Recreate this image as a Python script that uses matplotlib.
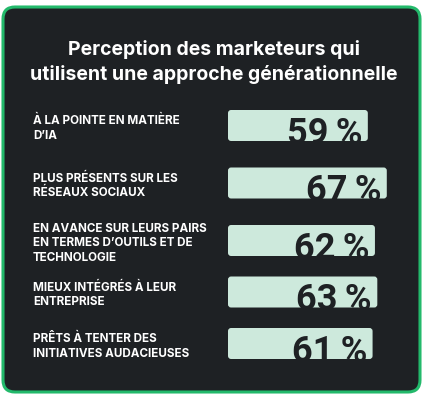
import matplotlib.pyplot as plt
from matplotlib.patches import FancyBboxPatch

# chart content
title_lines = ["Perception des marketeurs qui",
               "utilisent une approche générationnelle"]
labels = [
    "À LA POINTE EN MATIÈRE\nD’IA",
    "PLUS PRÉSENTS SUR LES\nRÉSEAUX SOCIAUX",
    "EN AVANCE SUR LEURS PAIRS\nEN TERMES D’OUTILS ET DE\nTECHNOLOGIE",
    "MIEUX INTÉGRÉS À LEUR\nENTREPRISE",
    "PRÊTS À TENTER DES\nINITIATIVES AUDACIEUSES",
]
values = [59, 67, 62, 63, 61]

# layout (pixels, y going down)
row_y = [125.5, 183, 240.5, 292, 343.5]
bar_h = 31
bar_left_px = 228
px_per_pct = 2.37

card_bg = '#1e2124'
card_edge = '#23b96b'
bar_color = '#cde9dc'

plt.rcParams['font.family'] = ['Inter', 'DejaVu Sans']

W, H = 424, 400
fig = plt.figure(figsize=(W / 100, H / 100), dpi=100)
fig.patch.set_facecolor('white')

bg = fig.add_axes([0, 0, 1, 1])
bg.set_xlim(0, W)
bg.set_ylim(H, 0)
bg.axis('off')

card = FancyBboxPatch((3, 7), 417, 385,
                      boxstyle='round,pad=0,rounding_size=12',
                      facecolor=card_bg, edgecolor=card_edge, linewidth=2.2)
bg.add_patch(card)

# title
for i, line in enumerate(title_lines):
    bg.text(214, 55 + i * 24.5, line, color='white', fontsize=14,
            fontweight='bold', ha='center', va='baseline')

# row labels
for lab, yc in zip(labels, row_y):
    lines = lab.split('\n')
    first = yc - (len(lines) - 1) * 7.25 + 6
    for j, line in enumerate(lines):
        bg.text(33, first + j * 14.5, line, color='white', fontsize=8.4,
                fontweight='bold', ha='left', va='baseline')

# bars
ax = fig.add_axes([bar_left_px / W, 0, (W - bar_left_px) / W, 1])
ax.set_xlim(0, (W - bar_left_px) / px_per_pct)
ax.set_ylim(H, 0)
ax.axis('off')
ax.patch.set_alpha(0)

bars = ax.barh(row_y, values, height=bar_h, left=0)
for rect, v in zip(bars, values):
    rect.set_visible(False)
    x0, y0 = rect.get_x(), rect.get_y()
    w, h = rect.get_width(), rect.get_height()
    rounded = FancyBboxPatch((x0, y0), w, h,
                             boxstyle='round,pad=0,rounding_size=1.3',
                             mutation_aspect=px_per_pct,
                             facecolor=bar_color, edgecolor='none')
    ax.add_patch(rounded)
    t = ax.annotate(f"{v}\u2009%", xy=(v, y0 + h), xytext=(-4, -2),
                    textcoords='offset points', ha='right', va='baseline',
                    fontsize=26, fontweight='bold', color=card_bg,
                    family=['Roboto', 'DejaVu Sans'])
    t.set_clip_path(rounded)

fig.savefig('out.png', dpi=100)
